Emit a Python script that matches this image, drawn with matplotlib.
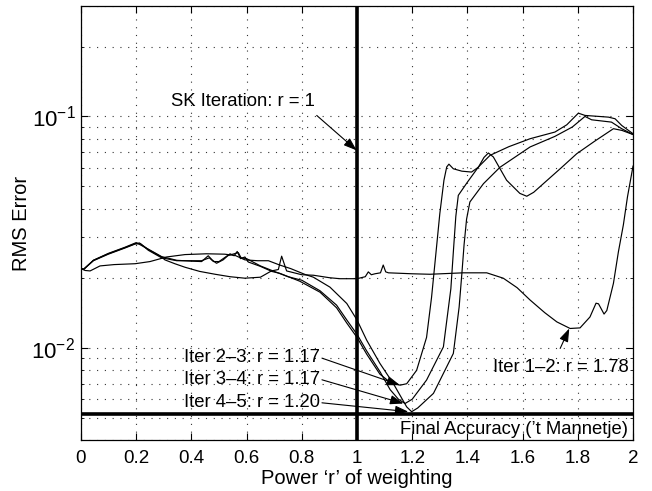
import matplotlib
matplotlib.use("Agg")
import matplotlib.pyplot as plt
from matplotlib.ticker import LogLocator, NullFormatter, FixedLocator

plt.rcParams['font.family'] = ['Liberation Sans', 'DejaVu Sans']
plt.rcParams['mathtext.fontset'] = 'custom'
plt.rcParams['mathtext.rm'] = 'Liberation Sans'
plt.rcParams['mathtext.it'] = 'Liberation Sans:italic'
plt.rcParams['mathtext.default'] = 'regular'

# ---- data ----
x12 = [0.0, 0.01, 0.045, 0.099, 0.159, 0.196, 0.212, 0.244, 0.292, 0.304, 0.34, 0.377, 0.43,
       0.486, 0.54, 0.594, 0.65, 0.69, 0.715, 0.727, 0.745, 0.80, 0.842, 0.90, 0.938, 1.0,
       1.03, 1.041, 1.052, 1.065, 1.085, 1.095, 1.104, 1.114, 1.2, 1.264, 1.385, 1.47, 1.53,
       1.58, 1.627, 1.68, 1.724, 1.772, 1.808, 1.844, 1.866, 1.875, 1.895, 1.905, 1.929,
       1.947, 1.965, 1.98, 2.0]
y12 = [0.0220, 0.0218, 0.0239, 0.0255, 0.0271, 0.0282, 0.0284, 0.0266, 0.0247, 0.0240, 0.0231,
       0.0223, 0.0214, 0.0208, 0.0203, 0.0200, 0.0202, 0.0215, 0.0218, 0.0249, 0.0215, 0.0207,
       0.0206, 0.0201, 0.0199, 0.0199, 0.0203, 0.0213, 0.0207, 0.0209, 0.0211, 0.0228, 0.0213,
       0.0211, 0.0209, 0.0208, 0.0211, 0.0211, 0.0200, 0.0182, 0.0161, 0.0142, 0.01295, 0.01213,
       0.0122, 0.0136, 0.0156, 0.0155, 0.0140, 0.0145, 0.0190, 0.0260, 0.0340, 0.0450, 0.0610]

x23 = [0.0, 0.01, 0.045, 0.099, 0.159, 0.2, 0.244, 0.292, 0.347, 0.40, 0.437, 0.461, 0.475,
       0.491, 0.515, 0.54, 0.555, 0.566, 0.578, 0.594, 0.606, 0.65, 0.691, 0.72, 0.793, 0.866,
       0.926, 0.963, 1.0, 1.035, 1.083, 1.12, 1.156, 1.18, 1.216, 1.252, 1.27, 1.285, 1.30,
       1.315, 1.325, 1.333, 1.349, 1.38, 1.415, 1.44, 1.46, 1.476, 1.494, 1.542, 1.59, 1.615,
       1.64, 1.675, 1.74, 1.796, 1.86, 1.929, 1.96, 2.0]
y23 = [0.0220, 0.0219, 0.0239, 0.0256, 0.0272, 0.0285, 0.0267, 0.0248, 0.0239, 0.0237, 0.0236,
       0.0250, 0.0240, 0.0232, 0.0240, 0.0255, 0.0250, 0.0261, 0.0243, 0.0247, 0.0235, 0.0225,
       0.0214, 0.0210, 0.0194, 0.0174, 0.0149, 0.0128, 0.0111, 0.0094, 0.0077, 0.0071, 0.0069,
       0.0070, 0.0080, 0.0111, 0.0165, 0.0250, 0.0380, 0.0530, 0.0605, 0.0622, 0.0594, 0.0580,
       0.0575, 0.0604, 0.0665, 0.0695, 0.0668, 0.0530, 0.0465, 0.0452, 0.0470, 0.0512, 0.0600,
       0.0690, 0.0780, 0.0885, 0.0870, 0.0835]

x34 = [0.0, 0.01, 0.045, 0.099, 0.159, 0.196, 0.215, 0.244, 0.292, 0.347, 0.40, 0.437, 0.465,
       0.48, 0.50, 0.53, 0.55, 0.57, 0.58, 0.60, 0.65, 0.70, 0.75, 0.80, 0.866, 0.926, 0.963,
       1.0, 1.035, 1.083, 1.12, 1.15, 1.174, 1.20, 1.252, 1.313, 1.34, 1.35, 1.358, 1.367,
       1.40, 1.44, 1.482, 1.55, 1.627, 1.717, 1.76, 1.802, 1.826, 1.911, 1.935, 1.959, 2.0]
y34 = [0.0220, 0.0219, 0.0238, 0.0254, 0.0270, 0.0281, 0.0282, 0.0264, 0.0245, 0.0238, 0.0238,
       0.0238, 0.0245, 0.0236, 0.0236, 0.0250, 0.0254, 0.0258, 0.0245, 0.0243, 0.0226, 0.0214,
       0.0203, 0.0196, 0.01765, 0.0153, 0.0132, 0.01145, 0.0097, 0.0079, 0.0066, 0.0060,
       0.00575, 0.0060, 0.00726, 0.0101, 0.0180, 0.0270, 0.0370, 0.0456, 0.0520, 0.0605,
       0.0679, 0.0740, 0.0801, 0.0856, 0.0920, 0.1033, 0.1010, 0.0993, 0.0977, 0.0914, 0.0842]

x45 = [0.0, 0.015, 0.033, 0.069, 0.12, 0.196, 0.25, 0.31, 0.377, 0.455, 0.52, 0.558, 0.594,
       0.64, 0.679, 0.72, 0.76, 0.81, 0.842, 0.902, 0.963, 1.0, 1.035, 1.083, 1.132, 1.18,
       1.198, 1.22, 1.277, 1.349, 1.37, 1.38, 1.388, 1.397, 1.409, 1.458, 1.518, 1.627, 1.717,
       1.78, 1.826, 1.85, 1.922, 1.959, 2.0]
y45 = [0.0220, 0.0216, 0.0215, 0.0226, 0.0229, 0.0231, 0.0236, 0.0247, 0.0253, 0.0255, 0.0254,
       0.0251, 0.0240, 0.0238, 0.0238, 0.0228, 0.0220, 0.0208, 0.0202, 0.0183, 0.01555, 0.0132,
       0.0108, 0.00857, 0.0070, 0.00556, 0.0053, 0.0055, 0.00636, 0.00946, 0.0150, 0.0210,
       0.0280, 0.0360, 0.0427, 0.0512, 0.0603, 0.0738, 0.0820, 0.0900, 0.1000, 0.0967, 0.0945,
       0.0885, 0.0835]

sk_r = 1.0
final_accuracy = 0.0052

xticks = [0, 0.2, 0.4, 0.6, 0.8, 1, 1.2, 1.4, 1.6, 1.8, 2]
xticklabels = ['0', '0.2', '0.4', '0.6', '0.8', '1', '1.2', '1.4', '1.6', '1.8', '2']

# ---- figure ----
fig = plt.figure(figsize=(6.52, 4.91), dpi=100)
ax = fig.add_axes([0.1242, 0.1039, 0.8467, 0.8839])

for xs, ys in [(x12, y12), (x23, y23), (x34, y34), (x45, y45)]:
    ax.plot(xs, ys, color='black', lw=0.85, zorder=3)

ax.axvline(sk_r, color='black', lw=2.6, zorder=4)
ax.axhline(final_accuracy, color='black', lw=2.6, zorder=4)

ax.set_yscale('log')
ax.set_xlim(0, 2)
ax.set_ylim(0.004, 0.3)
ax.set_xticks(xticks)
ax.set_xticklabels(xticklabels)
ax.yaxis.set_major_locator(FixedLocator([0.01, 0.1]))
ax.set_yticklabels([r'$10^{-2}$', r'$10^{-1}$'])
ax.yaxis.set_minor_locator(LogLocator(base=10, subs=range(2, 10)))
ax.yaxis.set_minor_formatter(NullFormatter())

gridkw = dict(color='0.2', linestyle=(0, (1, 6)), linewidth=0.8)
ax.grid(True, which='major', axis='both', **gridkw)
ax.grid(True, which='minor', axis='y', **gridkw)
ax.set_axisbelow(True)

ax.tick_params(axis='both', which='both', direction='in', top=True, right=True)
ax.tick_params(axis='x', which='major', labelsize=13.5, pad=7)
ax.tick_params(axis='y', which='major', labelsize=16, pad=4)
ax.tick_params(axis='both', which='major', length=5, width=0.8)
ax.tick_params(axis='y', which='minor', length=2.5, width=0.6)
for s in ax.spines.values():
    s.set_linewidth(0.9)

ax.set_xlabel('Power \u2018r\u2019 of weighting', fontsize=14.5, labelpad=2)
ax.set_ylabel('RMS Error', fontsize=14.5, labelpad=0)

fs = 13.3
arrow = dict(arrowstyle='-|>,head_length=0.8,head_width=0.28', color='black',
             lw=0.8, mutation_scale=10, shrinkA=0, shrinkB=0)

def note(text, txy, tail, tip, ha='right'):
    ax.text(txy[0], txy[1], text, ha=ha, va='center', fontsize=fs, zorder=5)
    ax.annotate('', xy=tip, xytext=tail, arrowprops=arrow, zorder=5)

note('SK Iteration: r = 1', (0.848, 0.1156), (0.854, 0.101), (0.999, 0.0713))
note('Iter 2\u20133: r = 1.17', (0.866, 0.00905), (0.873, 0.00903), (1.156, 0.0069))
note('Iter 3\u20134: r = 1.17', (0.866, 0.0073), (0.873, 0.00728), (1.168, 0.00575))
note('Iter 4\u20135: r = 1.20', (0.866, 0.00581), (0.873, 0.00579), (1.186, 0.0053))
ax.text(1.738, 0.00823, 'Iter 1\u20132: r = 1.78', ha='center', va='center', fontsize=fs, zorder=5)
ax.annotate('', xy=(1.769, 0.01213), xytext=(1.736, 0.00994), arrowprops=arrow, zorder=5)
ax.text(1.98, 0.00446, 'Final Accuracy (\u2019t Mannetje)', ha='right', va='center',
        fontsize=fs, zorder=5)

fig.savefig('out.png', dpi=100)
